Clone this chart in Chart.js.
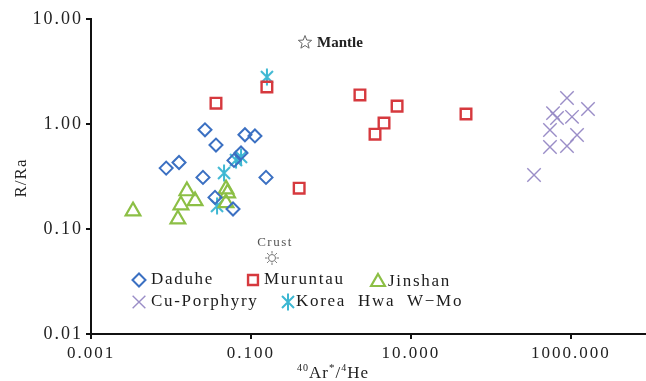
<!DOCTYPE html>
<html>
<head>
<meta charset="utf-8">
<script src="https://cdn.jsdelivr.net/npm/chart.js@4.4.1/dist/chart.umd.min.js"></script>
<style>
html, body { margin: 0; padding: 0; background: #fff; }
#wrap { width: 646px; height: 381px; }
</style>
</head>
<body>
<div id="wrap"><canvas id="chartHelio" width="646" height="381"></canvas></div>
<script>
// ticks
const xTicks = [0.001, 0.1, 10, 1000];
const yTicks = [0.01, 0.1, 1, 10];

// series (40Ar*/4He vs R/Ra)
const daduheX = [0.0266, 0.0365, 0.084, 0.112, 0.0087, 0.0126, 0.0251, 0.154, 0.075, 0.0613, 0.0596, 0.0355];
const daduheY = [0.88, 0.63, 0.79, 0.77, 0.38, 0.43, 0.31, 0.31, 0.53, 0.45, 0.155, 0.20];

const muruntauX = [0.0365, 0.158, 0.40, 2.3, 6.7, 4.6, 3.55, 48.7];
const muruntauY = [1.58, 2.25, 0.245, 1.89, 1.48, 1.02, 0.80, 1.245];

const jinshanX = [0.00335, 0.0158, 0.0133, 0.020, 0.0122, 0.0487, 0.051, 0.0487];
const jinshanY = [0.148, 0.23, 0.169, 0.185, 0.124, 0.24, 0.22, 0.177];

const cuPorphyryX = [891, 1631, 596, 668, 1029, 546, 1189, 546, 891, 345];
const cuPorphyryY = [1.77, 1.39, 1.27, 1.14, 1.17, 0.877, 0.785, 0.604, 0.617, 0.327];

const koreaX = [0.158, 0.046, 0.065, 0.075, 0.0376];
const koreaY = [2.8, 0.341, 0.454, 0.485, 0.166];

const mantleX = [0.473];
const mantleY = [6.04];
const crustX = [0.183];
const crustY = [0.053];

function toPoints(xs, ys) {
    return xs.map((x, i) => ({ x: x, y: ys[i] }));
}

// marker images
function makeAsterisk(color) {
    const c = document.createElement('canvas');
    c.width = 20; c.height = 20;
    const g = c.getContext('2d');
    g.strokeStyle = color;
    g.lineWidth = 2;
    g.beginPath();
    g.moveTo(10, 1.5); g.lineTo(10, 18.5);
    g.moveTo(4, 4); g.lineTo(16, 16);
    g.moveTo(4, 16); g.lineTo(16, 4);
    g.stroke();
    return c;
}

function makeStar(color) {
    const c = document.createElement('canvas');
    c.width = 16; c.height = 16;
    const g = c.getContext('2d');
    g.strokeStyle = color;
    g.lineWidth = 1;
    g.beginPath();
    for (let i = 0; i < 10; i++) {
        const r = i % 2 === 0 ? 7 : 3;
        const a = -Math.PI / 2 + i * Math.PI / 5;
        const px = 8 + r * Math.cos(a), py = 8.5 + r * Math.sin(a);
        if (i === 0) g.moveTo(px, py); else g.lineTo(px, py);
    }
    g.closePath();
    g.stroke();
    return c;
}

function makeSun(color) {
    const c = document.createElement('canvas');
    c.width = 16; c.height = 16;
    const g = c.getContext('2d');
    g.strokeStyle = color;
    g.lineWidth = 1;
    g.beginPath();
    g.arc(8, 8, 3.5, 0, Math.PI * 2);
    for (let i = 0; i < 8; i++) {
        const a = i * Math.PI / 4;
        g.moveTo(8 + 4.5 * Math.cos(a), 8 + 4.5 * Math.sin(a));
        g.lineTo(8 + 7 * Math.cos(a), 8 + 7 * Math.sin(a));
    }
    g.stroke();
    return c;
}

const colBlue = '#3b70c2';
const colRed = '#d6393e';
const colGreen = '#8cbf45';
const colPurple = '#9a8dc7';
const colCyan = '#3cb7d2';

const asteriskImg = makeAsterisk(colCyan);
const starImg = makeStar('#666');
const sunImg = makeSun('#777');

function drawMarker(ctx, style, x, y, r, color, lw) {
    ctx.save();
    if (typeof style === 'object') {
        ctx.drawImage(style, x - style.width / 2, y - style.height / 2);
        ctx.restore();
        return;
    }
    ctx.strokeStyle = color;
    ctx.lineWidth = lw;
    ctx.beginPath();
    if (style === 'rectRot') {
        ctx.moveTo(x - r, y); ctx.lineTo(x, y - r); ctx.lineTo(x + r, y); ctx.lineTo(x, y + r);
        ctx.closePath();
    } else if (style === 'rect') {
        const h = r * Math.SQRT1_2;
        ctx.rect(x - h, y - h, 2 * h, 2 * h);
    } else if (style === 'triangle') {
        ctx.moveTo(x, y - r);
        ctx.lineTo(x + 0.866 * r, y + 0.5 * r);
        ctx.lineTo(x - 0.866 * r, y + 0.5 * r);
        ctx.closePath();
    } else if (style === 'crossRot') {
        const d = r * Math.SQRT1_2;
        ctx.moveTo(x - d, y - d); ctx.lineTo(x + d, y + d);
        ctx.moveTo(x - d, y + d); ctx.lineTo(x + d, y - d);
    }
    ctx.stroke();
    ctx.restore();
}

const legendItems = [
    { text: 'Daduhe', style: 'rectRot', r: 6.5, color: colBlue, lw: 2, mx: 139, tx: 151, y: 280 },
    { text: 'Muruntau', style: 'rect', r: 7, color: colRed, lw: 2.4, mx: 253, tx: 264, y: 280 },
    { text: 'Jinshan', style: 'triangle', r: 8, color: colGreen, lw: 2.2, mx: 378, tx: 388, y: 282 },
    { text: 'Cu-Porphyry', style: 'crossRot', r: 9, color: colPurple, lw: 1.4, mx: 139, tx: 151, y: 302 },
    { text: 'Korea  Hwa  W\u2212Mo', style: asteriskImg, r: 0, color: colCyan, lw: 2, mx: 288, tx: 296, y: 302 }
];

const extraText = {
    id: 'extraText',
    beforeUpdate(chart) { chart.ctx.letterSpacing = '2px'; },
    beforeDraw(chart) { chart.ctx.letterSpacing = '2px'; },
    afterDraw(chart) {
        const ctx = chart.ctx;
        const xs = chart.scales.x, ys = chart.scales.y;
        ctx.save();

        // Mantle / Crust labels
        ctx.letterSpacing = '0px';
        ctx.fillStyle = '#222';
        ctx.font = 'bold 15px "Liberation Serif"';
        ctx.textAlign = 'left';
        ctx.textBaseline = 'middle';
        ctx.fillText('Mantle', xs.getPixelForValue(mantleX[0]) + 12, ys.getPixelForValue(mantleY[0]) + 1);

        ctx.letterSpacing = '1.5px';
        ctx.fillStyle = '#555';
        ctx.font = '13px "Liberation Serif"';
        ctx.textAlign = 'center';
        ctx.fillText('Crust', xs.getPixelForValue(crustX[0]) + 3, ys.getPixelForValue(crustY[0]) - 15);

        // legend
        ctx.letterSpacing = '1.7px';
        ctx.fillStyle = '#1c1c1c';
        ctx.font = '17px "Liberation Serif"';
        ctx.textAlign = 'left';
        legendItems.forEach(it => {
            drawMarker(ctx, it.style, it.mx, it.y, it.r, it.color, it.lw);
            ctx.fillText(it.text, it.tx, it.y);
        });

        // y title
        ctx.save();
        ctx.translate(22, 178);
        ctx.rotate(-Math.PI / 2);
        ctx.letterSpacing = '1px';
        ctx.textAlign = 'center';
        ctx.font = '17px "Liberation Serif"';
        ctx.fillStyle = '#222';
        ctx.fillText('R/Ra', 0, 0);
        ctx.restore();

        // x title with superscripts
        const segs = [
            ['40', 10, -7], ['Ar', 17, 0], ['*', 11, -7], ['/', 17, 0], ['4', 10, -7], ['He', 17, 0]
        ];
        ctx.letterSpacing = '1px';
        ctx.textBaseline = 'alphabetic';
        ctx.fillStyle = '#222';
        let cx = 297;
        segs.forEach(s => {
            ctx.font = s[1] + 'px "Liberation Serif"';
            ctx.fillText(s[0], cx, 378 + s[2]);
            cx += ctx.measureText(s[0]).width;
        });
        ctx.restore();
    }
};

const ctx = document.getElementById('chartHelio');

new Chart(ctx, {
    type: 'scatter',
    data: {
        datasets: [
            { label: 'Daduhe', data: toPoints(daduheX, daduheY), pointStyle: 'rectRot', pointRadius: 6.5, borderColor: colBlue, backgroundColor: 'transparent', pointBorderWidth: 2 },
            { label: 'Muruntau', data: toPoints(muruntauX, muruntauY), pointStyle: 'rect', pointRadius: 7.5, borderColor: colRed, backgroundColor: 'transparent', pointBorderWidth: 2.4 },
            { label: 'Jinshan', data: toPoints(jinshanX, jinshanY), pointStyle: 'triangle', pointRadius: 8.5, borderColor: colGreen, backgroundColor: 'transparent', pointBorderWidth: 2.2 },
            { label: 'Cu-Porphyry', data: toPoints(cuPorphyryX, cuPorphyryY), pointStyle: 'crossRot', pointRadius: 9.5, borderColor: colPurple, backgroundColor: 'transparent', pointBorderWidth: 1.4 },
            { label: 'Korea Hwa W-Mo', data: toPoints(koreaX, koreaY), pointStyle: asteriskImg, pointRadius: 9, borderColor: colCyan },
            { label: 'Mantle', data: toPoints(mantleX, mantleY), pointStyle: starImg, pointRadius: 8 },
            { label: 'Crust', data: toPoints(crustX, crustY), pointStyle: sunImg, pointRadius: 8 }
        ]
    },
    options: {
        responsive: false,
        animation: false,
        devicePixelRatio: 1,
        layout: { autoPadding: false, padding: { left: 0, top: 19, right: 0, bottom: 0 } },
        plugins: {
            legend: { display: false },
            tooltip: { enabled: false }
        },
        scales: {
            x: {
                type: 'logarithmic',
                min: 0.001,
                max: 8660,
                afterBuildTicks: s => { s.ticks = xTicks.map(v => ({ value: v })); },
                afterFit: s => { s.height = 47; s.paddingLeft = 0; s.paddingRight = 0; },
                ticks: {
                    callback: v => Number(v).toFixed(3),
                    font: { family: '"Liberation Serif"', size: 17 },
                    color: '#222',
                    padding: 4,
                    maxRotation: 0,
                    autoSkip: false
                },
                grid: { drawOnChartArea: false, tickLength: 5, color: '#111', lineWidth: 2 },
                border: { color: '#111', width: 2 }
            },
            y: {
                type: 'logarithmic',
                min: 0.01,
                max: 10,
                afterBuildTicks: s => { s.ticks = yTicks.map(v => ({ value: v })); },
                afterFit: s => { s.width = 91; },
                ticks: {
                    callback: v => Number(v).toFixed(2),
                    font: { family: '"Liberation Serif"', size: 18 },
                    color: '#222',
                    padding: 3,
                    autoSkip: false
                },
                grid: { drawOnChartArea: false, tickLength: 5, color: '#111', lineWidth: 2 },
                border: { color: '#111', width: 2 }
            }
        }
    },
    plugins: [extraText]
});
</script>
</body>
</html>
